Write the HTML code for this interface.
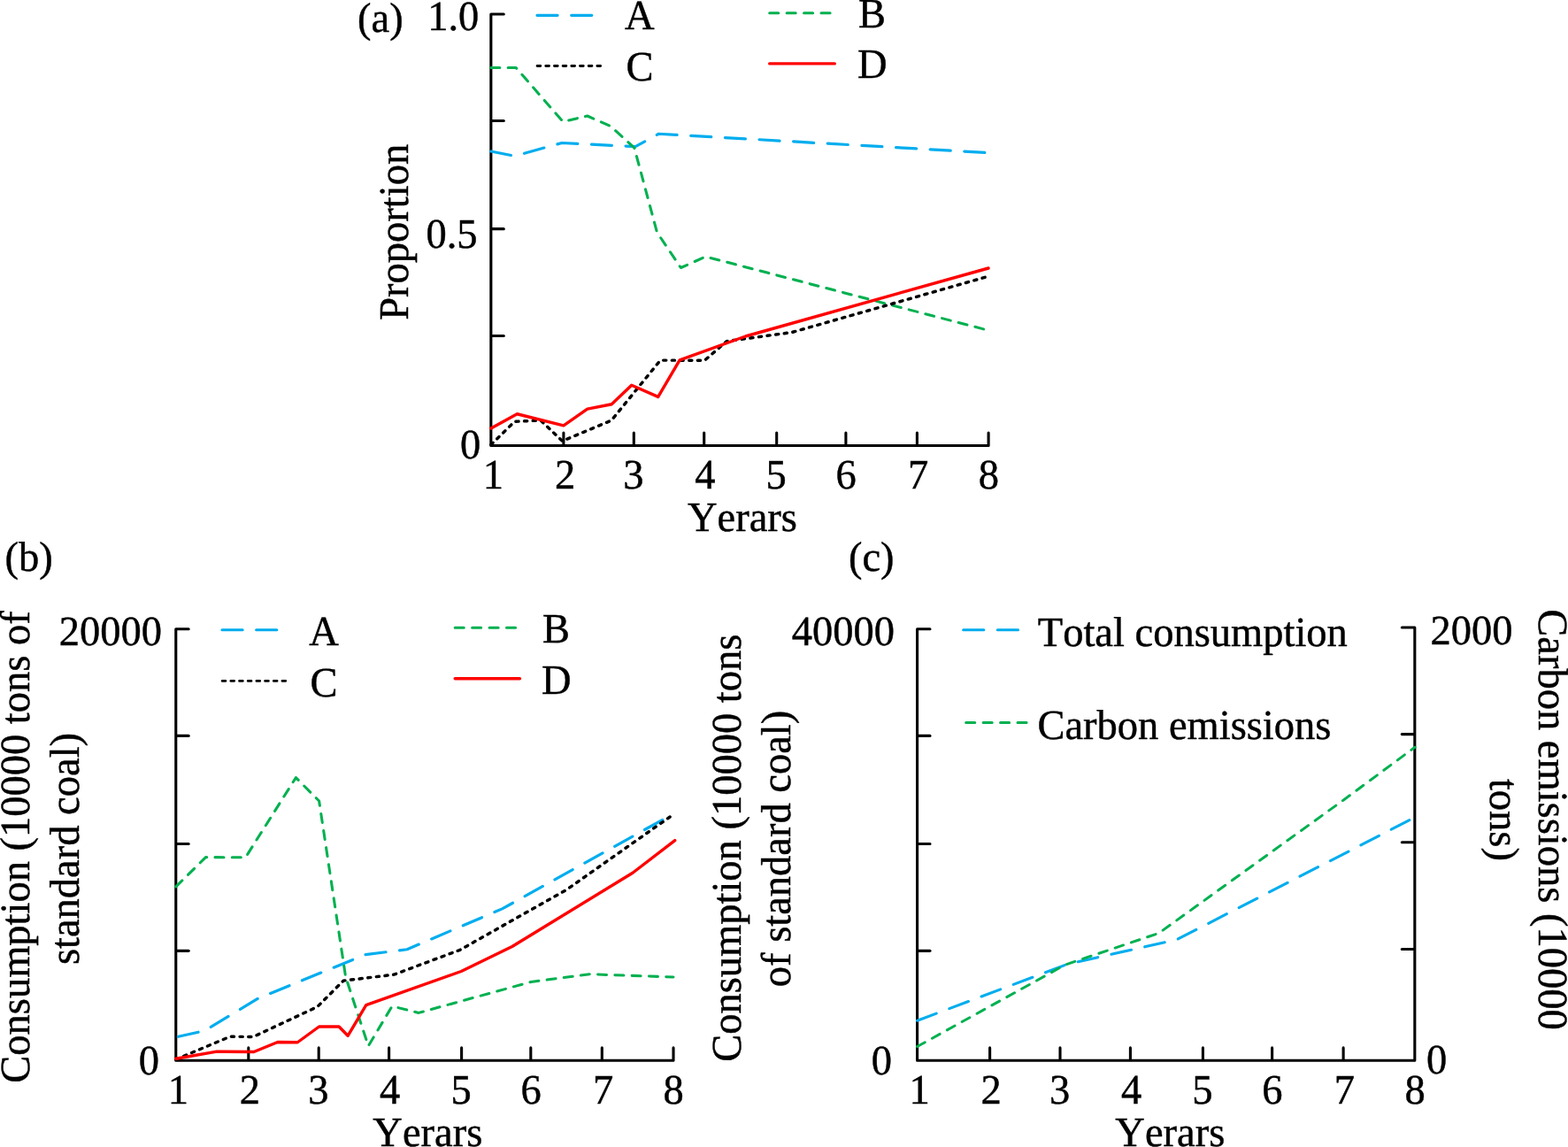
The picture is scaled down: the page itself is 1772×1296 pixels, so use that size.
<!DOCTYPE html>
<html lang="en">
<head>
<meta charset="utf-8">
<title>Proportion and consumption charts</title>
<style>
html,body{margin:0;padding:0;background:#fff;}
body{width:1772px;height:1296px;overflow:hidden;}
svg{display:block;}
text{font-family:"Liberation Serif",serif;fill:#000;font-kerning:none;font-variant-ligatures:none;text-rendering:geometricPrecision;}
</style>
</head>
<body>
<svg width="1772" height="1296" viewBox="0 0 1772 1296" role="img" aria-label="Three line charts: proportion, consumption, and total consumption with carbon emissions over years 1 to 8">
<rect width="1772" height="1296" fill="#fff"/>
<g fill="none" stroke="#000" stroke-width="3.1" stroke-linecap="round" stroke-linejoin="round">
<polyline points="569.25,15.96 554.85,15.96 554.85,503.45 1117.10,503.45 1117.10,489.05"/>
<line x1="555.85" y1="136.54" x2="569.25" y2="136.54"/>
<line x1="555.85" y1="258.65" x2="569.25" y2="258.65"/>
<line x1="555.85" y1="379.50" x2="569.25" y2="379.50"/>
<line x1="636.90" y1="502.45" x2="636.90" y2="489.05"/>
<line x1="716.30" y1="502.45" x2="716.30" y2="489.05"/>
<line x1="795.70" y1="502.45" x2="795.70" y2="489.05"/>
<line x1="877.70" y1="502.45" x2="877.70" y2="489.05"/>
<line x1="955.90" y1="502.45" x2="955.90" y2="489.05"/>
<line x1="1036.40" y1="502.45" x2="1036.40" y2="489.05"/>
</g>
<polyline points="554.85,171.00 581.60,176.30 635.00,161.50 718.10,165.60 744.40,151.25 1115.50,172.50" fill="none" stroke="#00ADEE" stroke-dasharray="23.1 15.6" stroke-width="3.2" stroke-linecap="round" stroke-linejoin="round"/>
<polyline points="554.85,76.50 583.10,76.50 636.25,137.50 663.75,131.00 690.00,142.50 716.90,167.20 742.50,262.50 769.40,302.50 797.50,290.00 1114.00,372.50" fill="none" stroke="#00B050" stroke-dasharray="10.0 9.3" stroke-width="3.05" stroke-linecap="round" stroke-linejoin="round"/>
<polyline points="554.85,502.50 581.50,476.30 611.00,475.00 635.50,498.30 691.00,475.00 746.25,407.10 796.25,407.25 821.25,385.60 895.00,375.50 1113.50,313.20" fill="none" stroke="#000000" stroke-dasharray="3.15 6.536" stroke-width="3.45" stroke-linecap="round" stroke-linejoin="round"/>
<polyline points="554.85,484.00 584.40,467.75 636.90,480.90 663.75,462.10 691.25,456.75 713.75,435.25 743.75,448.40 768.10,406.90 842.50,380.00 1117.00,303.00" fill="none" stroke="#FF0000" stroke-width="3.4" stroke-linecap="round" stroke-linejoin="round"/>
<polyline points="607.00,17.30 670.00,17.30" fill="none" stroke="#00ADEE" stroke-dasharray="23.1 15.6" stroke-width="3.2" stroke-linecap="round" stroke-linejoin="round"/>
<polyline points="607.10,74.55 680.00,74.55" fill="none" stroke="#000000" stroke-dasharray="3.7 5.986" stroke-width="2.9" stroke-linecap="round" stroke-linejoin="round"/>
<polyline points="869.70,14.70 939.50,14.70" fill="none" stroke="#00B050" stroke-dasharray="10.05 9.39" stroke-width="3.05" stroke-linecap="round" stroke-linejoin="round"/>
<polyline points="869.70,71.90 943.30,71.90" fill="none" stroke="#FF0000" stroke-width="3.4" stroke-linecap="round" stroke-linejoin="round"/>
<text transform="translate(706.00 33.25) scale(1.0 1.02)" text-anchor="start" font-size="46.5" stroke="#000" stroke-width="0.45">A</text>
<text transform="translate(707.40 90.80) scale(1.0 1.02)" text-anchor="start" font-size="46.5" stroke="#000" stroke-width="0.45">C</text>
<text transform="translate(970.00 30.50) scale(1.0 1.02)" text-anchor="start" font-size="46.5" stroke="#000" stroke-width="0.45">B</text>
<text transform="translate(969.00 88.00) scale(1.0 1.02)" text-anchor="start" font-size="46.5" stroke="#000" stroke-width="0.45">D</text>
<text transform="translate(404.10 36.30) scale(1.0 1.02)" text-anchor="start" font-size="46.5" stroke="#000" stroke-width="0.45">(a)</text>
<text transform="translate(541.30 33.80) scale(1.0 1.02)" text-anchor="end" font-size="46.5" stroke="#000" stroke-width="0.45">1.0</text>
<text transform="translate(539.50 279.50) scale(1.0 1.02)" text-anchor="end" font-size="46.5" stroke="#000" stroke-width="0.45">0.5</text>
<text transform="translate(543.30 518.20) scale(1.0 1.02)" text-anchor="end" font-size="46.5" stroke="#000" stroke-width="0.45">0</text>
<text transform="translate(557.35 551.50) scale(1.0 1.02)" text-anchor="middle" font-size="46.5" stroke="#000" stroke-width="0.45">1</text>
<text transform="translate(638.50 551.50) scale(1.0 1.02)" text-anchor="middle" font-size="46.5" stroke="#000" stroke-width="0.45">2</text>
<text transform="translate(715.90 551.50) scale(1.0 1.02)" text-anchor="middle" font-size="46.5" stroke="#000" stroke-width="0.45">3</text>
<text transform="translate(796.80 551.50) scale(1.0 1.02)" text-anchor="middle" font-size="46.5" stroke="#000" stroke-width="0.45">4</text>
<text transform="translate(877.20 551.50) scale(1.0 1.02)" text-anchor="middle" font-size="46.5" stroke="#000" stroke-width="0.45">5</text>
<text transform="translate(956.10 551.50) scale(1.0 1.02)" text-anchor="middle" font-size="46.5" stroke="#000" stroke-width="0.45">6</text>
<text transform="translate(1037.70 551.50) scale(1.0 1.02)" text-anchor="middle" font-size="46.5" stroke="#000" stroke-width="0.45">7</text>
<text transform="translate(1117.30 551.50) scale(1.0 1.02)" text-anchor="middle" font-size="46.5" stroke="#000" stroke-width="0.45">8</text>
<text transform="translate(777.00 599.60) scale(1.0 1.02)" text-anchor="start" font-size="46.5" stroke="#000" stroke-width="0.45">Yerars</text>
<text transform="translate(461.00 262.30) rotate(-90) scale(1.0 1.02)" text-anchor="middle" font-size="46.5" stroke="#000" stroke-width="0.45">Proportion</text>
<g fill="none" stroke="#000" stroke-width="3.1" stroke-linecap="round" stroke-linejoin="round">
<polyline points="213.16,710.80 198.76,710.80 198.76,1198.29 761.01,1198.29 761.01,1183.89"/>
<line x1="199.76" y1="831.38" x2="213.16" y2="831.38"/>
<line x1="199.76" y1="953.49" x2="213.16" y2="953.49"/>
<line x1="199.76" y1="1074.34" x2="213.16" y2="1074.34"/>
<line x1="280.81" y1="1197.29" x2="280.81" y2="1183.89"/>
<line x1="360.21" y1="1197.29" x2="360.21" y2="1183.89"/>
<line x1="439.61" y1="1197.29" x2="439.61" y2="1183.89"/>
<line x1="521.61" y1="1197.29" x2="521.61" y2="1183.89"/>
<line x1="599.81" y1="1197.29" x2="599.81" y2="1183.89"/>
<line x1="680.31" y1="1197.29" x2="680.31" y2="1183.89"/>
</g>
<polyline points="201.50,1171.30 231.40,1164.60 292.00,1128.00 412.50,1078.75 460.00,1072.75 567.50,1026.90 759.50,920.30" fill="none" stroke="#00ADEE" stroke-dasharray="23.1 15.6" stroke-width="3.2" stroke-linecap="round" stroke-linejoin="round"/>
<polyline points="198.76,1001.90 232.50,968.60 277.50,968.80 334.40,878.60 360.60,905.00 390.60,1103.75 416.25,1181.90 443.10,1136.90 473.10,1144.40 600.00,1109.50 666.25,1100.75 761.00,1104.00" fill="none" stroke="#00B050" stroke-dasharray="10.0 9.3" stroke-width="3.05" stroke-linecap="round" stroke-linejoin="round"/>
<polyline points="198.76,1197.00 260.00,1171.25 286.25,1171.50 358.75,1137.50 388.10,1108.10 445.00,1101.25 519.50,1073.50 640.00,1005.50 759.50,921.30" fill="none" stroke="#000000" stroke-dasharray="3.15 6.536" stroke-width="3.45" stroke-linecap="round" stroke-linejoin="round"/>
<polyline points="198.76,1196.25 245.00,1188.10 286.90,1188.50 313.75,1177.50 336.25,1177.75 360.60,1160.00 383.10,1160.00 393.10,1170.30 413.75,1135.60 521.25,1097.50 578.75,1069.50 715.00,986.25 762.70,949.60" fill="none" stroke="#FF0000" stroke-width="3.4" stroke-linecap="round" stroke-linejoin="round"/>
<polyline points="251.00,711.75 314.00,711.75" fill="none" stroke="#00ADEE" stroke-dasharray="23.1 15.6" stroke-width="3.2" stroke-linecap="round" stroke-linejoin="round"/>
<polyline points="251.20,769.40 324.00,769.40" fill="none" stroke="#000000" stroke-dasharray="3.7 5.986" stroke-width="2.9" stroke-linecap="round" stroke-linejoin="round"/>
<polyline points="514.20,709.25 583.75,709.25" fill="none" stroke="#00B050" stroke-dasharray="10.05 9.39" stroke-width="3.05" stroke-linecap="round" stroke-linejoin="round"/>
<polyline points="514.20,766.80 587.50,766.80" fill="none" stroke="#FF0000" stroke-width="3.4" stroke-linecap="round" stroke-linejoin="round"/>
<text transform="translate(349.30 728.75) scale(1.0 1.02)" text-anchor="start" font-size="46.5" stroke="#000" stroke-width="0.45">A</text>
<text transform="translate(350.50 786.80) scale(1.0 1.02)" text-anchor="start" font-size="46.5" stroke="#000" stroke-width="0.45">C</text>
<text transform="translate(613.00 726.25) scale(1.0 1.02)" text-anchor="start" font-size="46.5" stroke="#000" stroke-width="0.45">B</text>
<text transform="translate(612.00 783.75) scale(1.0 1.02)" text-anchor="start" font-size="46.5" stroke="#000" stroke-width="0.45">D</text>
<text transform="translate(5.60 645.00) scale(1.0 1.02)" text-anchor="start" font-size="46.5" stroke="#000" stroke-width="0.45">(b)</text>
<text transform="translate(183.00 728.75) scale(1.0 1.02)" text-anchor="end" font-size="46.5" stroke="#000" stroke-width="0.45">20000</text>
<text transform="translate(180.00 1214.00) scale(1.0 1.02)" text-anchor="end" font-size="46.5" stroke="#000" stroke-width="0.45">0</text>
<text transform="translate(201.26 1247.00) scale(1.0 1.02)" text-anchor="middle" font-size="46.5" stroke="#000" stroke-width="0.45">1</text>
<text transform="translate(282.41 1247.00) scale(1.0 1.02)" text-anchor="middle" font-size="46.5" stroke="#000" stroke-width="0.45">2</text>
<text transform="translate(359.81 1247.00) scale(1.0 1.02)" text-anchor="middle" font-size="46.5" stroke="#000" stroke-width="0.45">3</text>
<text transform="translate(440.71 1247.00) scale(1.0 1.02)" text-anchor="middle" font-size="46.5" stroke="#000" stroke-width="0.45">4</text>
<text transform="translate(521.11 1247.00) scale(1.0 1.02)" text-anchor="middle" font-size="46.5" stroke="#000" stroke-width="0.45">5</text>
<text transform="translate(600.01 1247.00) scale(1.0 1.02)" text-anchor="middle" font-size="46.5" stroke="#000" stroke-width="0.45">6</text>
<text transform="translate(681.61 1247.00) scale(1.0 1.02)" text-anchor="middle" font-size="46.5" stroke="#000" stroke-width="0.45">7</text>
<text transform="translate(761.21 1247.00) scale(1.0 1.02)" text-anchor="middle" font-size="46.5" stroke="#000" stroke-width="0.45">8</text>
<text transform="translate(421.30 1295.10) scale(1.0 1.02)" text-anchor="start" font-size="46.5" stroke="#000" stroke-width="0.45">Yerars</text>
<text transform="translate(32.50 957.00) rotate(-90) scale(1.0 1.02)" text-anchor="middle" font-size="46.5" stroke="#000" stroke-width="0.45">Consumption (10000 tons of</text>
<text transform="translate(88.75 959.00) rotate(-90) scale(1.0 1.02)" text-anchor="middle" font-size="46.5" stroke="#000" stroke-width="0.45">standard coal)</text>
<g fill="none" stroke="#000" stroke-width="3.1" stroke-linecap="round" stroke-linejoin="round">
<polyline points="1050.97,710.80 1036.57,710.80 1036.57,1198.29 1598.82,1198.29 1598.82,709.00 1584.32,709.00"/>
<line x1="1597.82" y1="829.58" x2="1584.32" y2="829.58"/>
<line x1="1597.82" y1="951.69" x2="1584.32" y2="951.69"/>
<line x1="1597.82" y1="1072.54" x2="1584.32" y2="1072.54"/>
<line x1="1037.57" y1="831.38" x2="1050.97" y2="831.38"/>
<line x1="1037.57" y1="953.49" x2="1050.97" y2="953.49"/>
<line x1="1037.57" y1="1074.34" x2="1050.97" y2="1074.34"/>
<line x1="1118.62" y1="1197.29" x2="1118.62" y2="1183.89"/>
<line x1="1198.02" y1="1197.29" x2="1198.02" y2="1183.89"/>
<line x1="1277.42" y1="1197.29" x2="1277.42" y2="1183.89"/>
<line x1="1359.42" y1="1197.29" x2="1359.42" y2="1183.89"/>
<line x1="1437.62" y1="1197.29" x2="1437.62" y2="1183.89"/>
<line x1="1518.12" y1="1197.29" x2="1518.12" y2="1183.89"/>
</g>
<polyline points="1036.57,1153.25 1207.00,1089.20 1329.70,1061.80 1597.00,924.50" fill="none" stroke="#00ADEE" stroke-dasharray="23.1 15.6" stroke-width="3.1" stroke-linecap="round" stroke-linejoin="round"/>
<polyline points="1036.57,1182.50 1204.00,1090.00 1309.60,1054.40 1518.00,904.20 1599.00,844.30" fill="none" stroke="#00B050" stroke-dasharray="9.95 9.32" stroke-width="2.95" stroke-linecap="round" stroke-linejoin="round"/>
<polyline points="1088.70,711.75 1152.00,711.75" fill="none" stroke="#00ADEE" stroke-dasharray="23.1 15.6" stroke-width="3.2" stroke-linecap="round" stroke-linejoin="round"/>
<polyline points="1091.70,816.50 1160.50,816.50" fill="none" stroke="#00B050" stroke-dasharray="10.05 9.39" stroke-width="3.05" stroke-linecap="round" stroke-linejoin="round"/>
<text transform="translate(1172.80 729.50) scale(1.0 1.02)" text-anchor="start" font-size="46.5" stroke="#000" stroke-width="0.45">Total consumption</text>
<text transform="translate(1172.40 834.50) scale(1.0 1.02)" text-anchor="start" font-size="46.5" stroke="#000" stroke-width="0.45">Carbon emissions</text>
<text transform="translate(959.00 645.00) scale(1.0 1.02)" text-anchor="start" font-size="46.5" stroke="#000" stroke-width="0.45">(c)</text>
<text transform="translate(1011.00 728.75) scale(1.0 1.02)" text-anchor="end" font-size="46.5" stroke="#000" stroke-width="0.45">40000</text>
<text transform="translate(1008.00 1214.00) scale(1.0 1.02)" text-anchor="end" font-size="46.5" stroke="#000" stroke-width="0.45">0</text>
<text transform="translate(1616.50 727.50) scale(1.0 1.02)" text-anchor="start" font-size="46.5" stroke="#000" stroke-width="0.45">2000</text>
<text transform="translate(1612.00 1213.00) scale(1.0 1.02)" text-anchor="start" font-size="46.5" stroke="#000" stroke-width="0.45">0</text>
<text transform="translate(1039.07 1247.00) scale(1.0 1.02)" text-anchor="middle" font-size="46.5" stroke="#000" stroke-width="0.45">1</text>
<text transform="translate(1120.22 1247.00) scale(1.0 1.02)" text-anchor="middle" font-size="46.5" stroke="#000" stroke-width="0.45">2</text>
<text transform="translate(1197.62 1247.00) scale(1.0 1.02)" text-anchor="middle" font-size="46.5" stroke="#000" stroke-width="0.45">3</text>
<text transform="translate(1278.52 1247.00) scale(1.0 1.02)" text-anchor="middle" font-size="46.5" stroke="#000" stroke-width="0.45">4</text>
<text transform="translate(1358.92 1247.00) scale(1.0 1.02)" text-anchor="middle" font-size="46.5" stroke="#000" stroke-width="0.45">5</text>
<text transform="translate(1437.82 1247.00) scale(1.0 1.02)" text-anchor="middle" font-size="46.5" stroke="#000" stroke-width="0.45">6</text>
<text transform="translate(1519.42 1247.00) scale(1.0 1.02)" text-anchor="middle" font-size="46.5" stroke="#000" stroke-width="0.45">7</text>
<text transform="translate(1599.02 1247.00) scale(1.0 1.02)" text-anchor="middle" font-size="46.5" stroke="#000" stroke-width="0.45">8</text>
<text transform="translate(1260.30 1295.00) scale(1.0 1.02)" text-anchor="start" font-size="46.5" stroke="#000" stroke-width="0.45">Yerars</text>
<text transform="translate(836.50 958.20) rotate(-90) scale(1.0 1.02)" text-anchor="middle" font-size="46.5" stroke="#000" stroke-width="0.45">Consumption (10000 tons</text>
<text transform="translate(892.80 959.00) rotate(-90) scale(1.0 1.02)" text-anchor="middle" font-size="46.5" stroke="#000" stroke-width="0.45">of standard coal)</text>
<text transform="translate(1739.00 926.00) rotate(90) scale(1.0 1.02)" text-anchor="middle" font-size="46.5" stroke="#000" stroke-width="0.45">Carbon emissions (10000</text>
<text transform="translate(1684.00 926.40) rotate(90) scale(1.0 1.02)" text-anchor="middle" font-size="46.5" stroke="#000" stroke-width="0.45">tons)</text>
</svg>
</body>
</html>
